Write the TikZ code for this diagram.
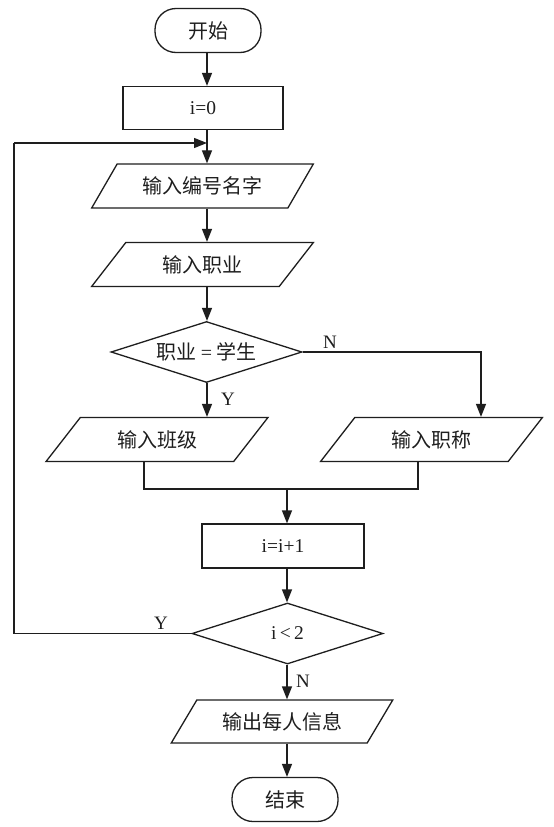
\documentclass[tikz,border=0pt]{standalone}
\usepackage{fontspec}
\setmainfont{Liberation Serif}
\newfontfamily\cjk{Noto Sans CJK SC}
\usetikzlibrary{shapes.geometric,arrows.meta}
\definecolor{ink}{HTML}{1E1E1E}
\tikzset{
  base/.style={draw=ink, line width=1.3pt, inner sep=0pt, text=ink},
  term/.style={base, rectangle, rounded corners=21pt, minimum width=106pt, minimum height=44pt, font=\cjk\fontsize{20}{20}\selectfont},
  proc/.style={base, rectangle, minimum height=43pt, font=\fontsize{19.5}{20}\selectfont},
  io/.style={base, trapezium, trapezium left angle=46, trapezium right angle=134, trapezium stretches=true, minimum width=222pt, minimum height=44pt, font=\cjk\fontsize{20}{20}\selectfont},
  dec/.style={base, diamond, minimum width=191pt, minimum height=61pt, aspect=3.1},
  arr/.style={draw=ink, line width=1.3pt, -{Triangle[length=13pt,width=10pt]}},
  ln/.style={draw=ink, line width=1.3pt},
  lab/.style={text=ink, font=\fontsize{19}{19}\selectfont, inner sep=0pt}
}
\begin{document}
\begin{tikzpicture}[x=1pt,y=-1pt]
\useasboundingbox[fill=white] (0,0) rectangle (554,827);
% nodes
\node[term] (start) at (208,30.5) {开始};
\node[proc, minimum width=160pt] (i0) at (203,108) {i=0};
\node[io] (p1) at (202.5,186) {输入编号名字};
\node[io] (p2) at (202.5,264.5) {输入职业};
\node[dec] (d1) at (206.5,352) {};
\node[font=\cjk\fontsize{20}{20}\selectfont, text=ink] (d1t) at (206.5,352) {职业 {\rmfamily=} 学生};
\node[io] (pl) at (157,439.5) {输入班级};
\node[io] (pr) at (431.5,439.5) {输入职称};
\node[proc, minimum width=162pt, minimum height=44pt] (inc) at (283,546) {i=i+1};
\node[dec] (d2) at (287.5,633.5) {};
\node[font=\fontsize{19.5}{20}\selectfont, text=ink] (d2t) at (287.5,633.5) {i\,<\,2};
\node[io, minimum height=43pt] (out) at (282,721.5) {输出每人信息};
\node[term] (end) at (285,799.5) {结束};
% axis coordinates
\coordinate (axA) at (207,0);
\coordinate (axB) at (287,0);
\coordinate (axR) at (481,0);
\coordinate (loopL) at (14,143);
\coordinate (loopR) at (207,143);
\coordinate (mL) at (144,489);
\coordinate (mR) at (418,489);
\coordinate (mC) at (287,489);
% connectors
\draw[arr] (start.south -| axA) -- (i0.north -| axA);
\draw[arr] (i0.south -| axA) -- (p1.north -| axA);
\draw[arr] (p1.south -| axA) -- (p2.north -| axA);
\draw[arr] (p2.south -| axA) -- (d1.north -| axA);
\draw[arr] (d1.south -| axA) -- (pl.north -| axA);
\draw[arr] (d1.east) -- (d1.east -| axR) -- (pr.north -| axR);
\draw[ln] (pl.south -| mL) -- (mL) -- (mR) -- (pr.south -| mR);
\draw[arr] (mC) -- (inc.north -| axB);
\draw[arr] (inc.south -| axB) -- (d2.north -| axB);
\draw[arr] (d2.south -| axB) -- (out.north -| axB);
\draw[arr] (out.south -| axB) -- (end.north -| axB);
\draw[ln] (d2.west) -- (d2.west -| loopL) -- (loopL);
\draw[arr] (loopL) -- (loopR);
% labels
\node[lab] (lN1) at (330,342) {N};
\node[lab] (lY1) at (228,399) {Y};
\node[lab] (lY2) at (161,623) {Y};
\node[lab] (lN2) at (303,681) {N};
\end{tikzpicture}
\end{document}
